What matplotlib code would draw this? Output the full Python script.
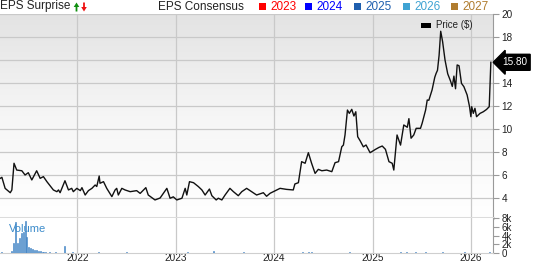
import numpy as np
import pandas as pd
import matplotlib
matplotlib.use('Agg')
import matplotlib.pyplot as plt
from matplotlib.colors import LinearSegmentedColormap
from matplotlib.patches import Rectangle, Polygon

plt.rcParams['font.family'] = ['Liberation Sans', 'DejaVu Sans']

# ---- data --------------------------------------------------------------
price_dates = [
    '2021-03-21', '2021-03-27', '2021-04-08', '2021-04-27', '2021-05-03', '2021-05-11',
    '2021-05-21', '2021-06-09', '2021-06-21', '2021-07-03', '2021-07-16', '2021-08-03',
    '2021-08-16', '2021-08-28', '2021-09-10', '2021-10-04', '2021-10-17', '2021-10-23',
    '2021-10-29', '2021-11-16', '2021-11-29', '2021-12-11', '2021-12-17', '2021-12-30',
    '2022-01-12', '2022-01-18', '2022-01-30', '2022-02-11', '2022-02-24', '2022-03-08',
    '2022-03-14', '2022-03-23', '2022-03-26', '2022-04-08', '2022-04-20', '2022-05-09',
    '2022-05-21', '2022-05-27', '2022-06-02', '2022-06-15', '2022-06-27', '2022-07-16',
    '2022-08-09', '2022-08-22', '2022-09-12', '2022-09-21', '2022-10-16', '2022-11-04',
    '2022-11-29', '2022-12-11', '2022-12-23', '2023-01-05', '2023-01-24', '2023-02-05',
    '2023-02-11', '2023-02-21', '2023-03-08', '2023-03-26', '2023-04-08', '2023-04-20',
    '2023-05-06', '2023-05-15', '2023-05-31', '2023-06-08', '2023-06-21', '2023-07-03',
    '2023-07-21', '2023-08-03', '2023-08-21', '2023-09-03', '2023-09-21', '2023-10-04',
    '2023-10-28', '2023-11-22', '2023-12-04', '2023-12-17', '2023-12-29', '2024-01-23',
    '2024-02-16', '2024-03-12', '2024-03-18', '2024-03-31', '2024-04-12', '2024-04-25',
    '2024-05-07', '2024-05-19', '2024-06-01', '2024-06-13', '2024-06-26', '2024-07-14',
    '2024-08-02', '2024-08-14', '2024-08-27', '2024-09-08', '2024-09-14', '2024-09-20',
    '2024-09-29', '2024-10-06', '2024-10-15', '2024-10-23', '2024-10-30', '2024-11-06',
    '2024-11-15', '2024-11-27', '2024-12-07', '2024-12-22', '2025-01-11', '2025-01-24',
    '2025-02-05', '2025-02-17', '2025-03-02', '2025-03-14', '2025-03-20', '2025-04-01',
    '2025-04-14', '2025-04-26', '2025-05-09', '2025-05-15', '2025-05-23', '2025-06-02',
    '2025-06-11', '2025-06-27', '2025-07-03', '2025-07-16', '2025-07-22', '2025-07-28',
    '2025-08-09', '2025-08-19', '2025-08-24', '2025-08-29', '2025-09-04', '2025-09-10',
    '2025-09-17', '2025-09-26', '2025-10-06', '2025-10-16', '2025-10-23', '2025-10-29',
    '2025-11-04', '2025-11-10', '2025-11-17', '2025-11-26', '2025-12-05', '2025-12-17',
    '2025-12-26', '2025-12-31', '2026-01-03', '2026-01-09', '2026-01-15', '2026-01-21',
    '2026-02-03', '2026-02-15', '2026-02-27', '2026-03-09', '2026-03-15',
]
price = [
    5.71, 5.80, 4.84, 4.46, 4.70, 7.02,
    6.43, 6.37, 6.00, 6.20, 5.57, 6.37,
    5.71, 5.86, 5.42, 4.70, 4.55, 4.70,
    4.46, 5.50, 4.70, 4.84, 4.55, 4.84,
    4.64, 4.90, 4.26, 4.64, 4.84, 5.13,
    5.00, 5.91, 5.28, 5.42, 4.84, 4.12,
    4.70, 4.84, 4.26, 4.84, 4.70, 4.55,
    4.64, 4.40, 4.90, 4.26, 3.83, 4.00,
    4.84, 3.98, 4.10, 3.83, 3.98, 4.84,
    4.26, 5.42, 5.33, 4.99, 4.70, 4.26,
    4.78, 4.20, 3.83, 3.98, 3.83, 4.26,
    4.84, 4.55, 4.20, 4.55, 4.84, 4.64,
    4.26, 4.46, 4.15, 4.41, 4.55, 4.84,
    4.75, 4.70, 5.22, 5.33, 7.16, 7.02,
    7.94, 7.02, 6.14, 6.49, 6.37, 6.43,
    6.29, 7.07, 7.16, 8.46, 8.60, 9.48,
    11.65, 11.36, 11.71, 11.13, 11.50, 9.33,
    8.98, 8.45, 8.61, 7.94, 8.23, 8.40,
    8.52, 8.23, 7.16, 7.02, 6.43, 9.48,
    8.60, 10.35, 10.15, 10.90, 9.20, 9.48,
    10.06, 10.06, 10.49, 11.65, 12.52, 12.50,
    13.40, 14.50, 14.84, 15.10, 16.40, 18.50,
    17.60, 16.00, 14.80, 14.20, 13.70, 14.60,
    13.50, 15.57, 15.50, 13.97, 13.68, 12.96,
    11.94, 11.07, 11.94, 11.36, 11.80, 11.07,
    11.36, 11.50, 11.70, 11.94, 15.80,
]

vol_dates = [
    '2021-03-24', '2021-05-03', '2021-05-10', '2021-05-17', '2021-05-24', '2021-05-31',
    '2021-06-07', '2021-06-14', '2021-06-21', '2021-06-28', '2021-07-05', '2021-07-12',
    '2021-07-19', '2021-07-26', '2021-08-02', '2021-08-09', '2021-08-16', '2021-08-23',
    '2021-08-30', '2021-09-06', '2021-09-20', '2021-10-11', '2021-11-15', '2021-12-13',
    '2022-03-21', '2022-07-04', '2023-02-13', '2023-05-22', '2023-09-11', '2024-04-15',
    '2024-05-06', '2024-05-20', '2024-10-07', '2025-04-14', '2025-05-05', '2025-06-09',
    '2025-07-14', '2025-09-15', '2025-12-08', '2026-03-09',
]
volume = [
    0.3, 0.5, 2.3, 7.0, 2.4, 3.4,
    4.5, 4.8, 7.4, 3.7, 1.4, 1.2,
    0.9, 0.7, 0.6, 0.5, 0.4, 0.3,
    0.3, 0.2, 0.2, 0.2, 1.7, 0.2,
    0.15, 0.15, 0.3, 0.35, 0.15, 0.3,
    0.25, 0.2, 0.3, 0.3, 0.25, 0.2,
    0.2, 0.25, 0.15, 0.3,
]

price_ticks = [4, 6, 8, 10, 12, 14, 16, 18, 20]
price_tick_labels = ['4', '6', '8', '10', '12', '14', '', '18', '20']
vol_ticks = [0, 2, 4, 6, 8]
vol_tick_labels = ['0', '2k', '4k', '6k', '8k']
years = ['2022', '2023', '2024', '2025', '2026']
last_price = 15.80

eps_years = ['2023', '2024', '2025', '2026', '2027']
eps_colors = ['#ff0000', '#0000ff', '#1f5fae', '#3fa3d3', '#b07c2e']

# ---- figure ------------------------------------------------------------
W, H = 533, 264
fig = plt.figure(figsize=(W / 100, H / 100), dpi=100)
fig.patch.set_facecolor('white')

GRID = '#c9c9c9'
INK = '#222222'
SPINE = '#9a9a9a'


def px(x, y):
    # pixel position (from top-left) -> figure fraction
    return x / W, 1 - y / H


ax = fig.add_axes([0, 1 - 218 / H, 493 / W, (218 - 14) / H])
axv = fig.add_axes([0, 1 - 253 / H, 493 / W, 35 / H], sharex=ax)

pd_dates = pd.to_datetime(price_dates)
vd_dates = pd.to_datetime(vol_dates)
year_pos = pd.to_datetime([y + '-01-01' for y in years])
x0, x1 = pd.Timestamp('2021-03-20'), pd.Timestamp('2026-03-23')

# gradient background on the price panel
grad = np.linspace(0, 1, 256).reshape(-1, 1)
cmap = LinearSegmentedColormap.from_list('bg', ['#e3e3e3', '#f6f6f6', '#ffffff'])
ax.imshow(grad, cmap=cmap, aspect='auto', extent=[0, 1, 0, 1], origin='upper',
          transform=ax.transAxes, zorder=-2)

ax.plot(pd_dates, price, color='#111111', lw=1.0, zorder=3)
ax.set_xlim(x0, x1)
ax.set_ylim(20 - (218 - 14) / 11.5, 20)
ax.set_yticks(price_ticks)
ax.set_yticklabels(price_tick_labels)
ax.yaxis.tick_right()
ax.tick_params(axis='y', length=4, width=0.8, color=SPINE, labelsize=7.2,
               labelcolor=INK, pad=2)
ax.tick_params(axis='x', length=0, labelbottom=False)
ax.set_xticks(year_pos)
ax.grid(True, color=GRID, lw=0.9)
ax.set_axisbelow(True)
for s in ('top', 'left'):
    ax.spines[s].set_visible(False)
ax.spines['right'].set_color(SPINE)
ax.spines['bottom'].set_color('#dcdcdc')
ax.spines['bottom'].set_linewidth(2.2)

# last price tag
ax.annotate(f'{last_price:.2f}', xy=(1.0, last_price),
            xycoords=('axes fraction', 'data'), xytext=(6.5, 0),
            textcoords='offset points', ha='left', va='center',
            fontsize=7.2, color='white', annotation_clip=False,
            bbox=dict(boxstyle='larrow,pad=0.3', fc='black', ec='black'))

# price legend
fig.patches.append(Rectangle(px(421, 28), 10 / W, 5 / H,
                             transform=fig.transFigure, fc='black', ec='none'))
fig.text(*px(436, 25.5), 'Price ($)', fontsize=7, color=INK, va='center')

# volume panel
axv.set_facecolor('white')
axv.bar(vd_dates, volume, width=4, color='#5a9ad6', edgecolor='#3a7dc0', lw=0.4,
        zorder=3)
axv.set_ylim(0, 8)
axv.set_yticks(vol_ticks)
axv.set_yticklabels(vol_tick_labels)
axv.yaxis.tick_right()
axv.tick_params(axis='y', length=4, width=0.8, color=SPINE, labelsize=7,
                labelcolor=INK, pad=2)
axv.set_xticks(year_pos)
axv.set_xticklabels(years)
axv.tick_params(axis='x', length=0, labelsize=7.2, labelcolor=INK, pad=0.3)
axv.grid(True, axis='x', color=GRID, lw=0.9)
axv.set_axisbelow(True)
for s in ('top', 'left'):
    axv.spines[s].set_visible(False)
axv.spines['right'].set_color(SPINE)
axv.spines['bottom'].set_color('#cfcfcf')
axv.text(0.018, 0.7, 'Volume', transform=axv.transAxes, fontsize=8,
         color='#3d8ccb', va='center')

# header
fig.text(*px(0, 6.5), 'EPS Surprise', fontsize=8.5, color=INK, va='center')
# up / down arrows drawn as small polygons
up = [(76.5, 2.5), (79.3, 7), (77.4, 7), (77.4, 11.5), (75.6, 11.5), (75.6, 7), (73.7, 7)]
dn = [(84, 11.5), (86.8, 7), (84.9, 7), (84.9, 2.5), (83.1, 2.5), (83.1, 7), (81.2, 7)]
fig.patches.append(Polygon([px(x, y) for x, y in up], closed=True,
                           transform=fig.transFigure, fc='#0f8f0f', ec='none'))
fig.patches.append(Polygon([px(x, y) for x, y in dn], closed=True,
                           transform=fig.transFigure, fc='#ee1111', ec='none'))
fig.text(*px(158, 6.5), 'EPS Consensus', fontsize=8.5, color=INK, va='center')
sq_x = [259, 305, 354, 403, 451]
for xs, lab, col in zip(sq_x, eps_years, eps_colors):
    fig.patches.append(Rectangle(px(xs, 10), 7 / W, 7 / H,
                                 transform=fig.transFigure, fc=col, ec='none'))
    fig.text(*px(xs + 11, 6.5), lab, fontsize=8.5, color=col, va='center')

fig.savefig('out.png', dpi=100, facecolor='white')
